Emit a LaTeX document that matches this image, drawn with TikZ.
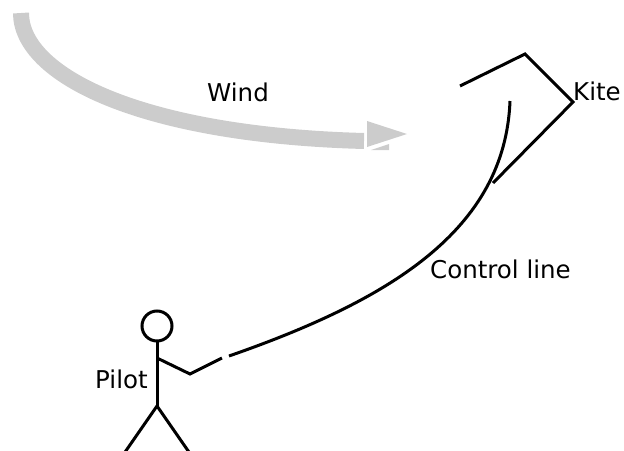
\documentclass[tikz,border=0pt]{standalone}
\usepackage{fontspec}
\setmainfont{DejaVu Sans}
\definecolor{windgray}{HTML}{CCCCCC}
\begin{document}
\begin{tikzpicture}[x=1pt,y=-1pt,
  ink/.style={line width=3pt,black},
  band/.style={line width=16pt,windgray},
  label/.style={inner sep=0pt,anchor=base west,font=\fontsize{24.5}{28}\selectfont}]
\useasboundingbox (0,0) rectangle (624,450);

% wind: broad grey curved arrow
\draw[band] (21,13) .. controls (21,75) and (140,135) .. (364,141);
\fill[windgray] (367,121) -- (407,134) -- (367,147) -- cycle;
\fill[windgray] (371,150) -- (389,144) -- (389,150) -- cycle;
\node[label] (wind) at (207,101) {Wind};

% kite
\coordinate (k1) at (460,86);
\coordinate (k2) at (525,54);
\coordinate (k3) at (573,102);
\coordinate (k4) at (493,183);
\draw[ink] (k1) -- (k2) -- (k3) -- (k4);
\node[label] (kite) at (573,100) {Kite};

% pilot
\coordinate (head) at (157,326);
\coordinate (neck) at (157,341);
\coordinate (hip) at (157,406);
\coordinate (shoulder) at (157,358);
\coordinate (elbow) at (190,374);
\coordinate (hand) at (222,358);
\coordinate (footL) at (123,455);
\coordinate (footR) at (191,455);
\draw[ink] (head) circle (15);
\draw[ink] (neck) -- (hip);
\draw[ink] (footL) -- (hip) -- (footR);
\draw[ink] (shoulder) -- (elbow) -- (hand);
\node[label] (pilot) at (95,388) {Pilot};

% control line from the kite down to the pilot's hand
\coordinate (bridle) at (510,101);
\coordinate (grip) at (229,356);
\draw[ink] (bridle) .. controls (505,230) and (390,300) .. (grip);
\node[label] (cl) at (430,278) {Control line};
\end{tikzpicture}
\end{document}
